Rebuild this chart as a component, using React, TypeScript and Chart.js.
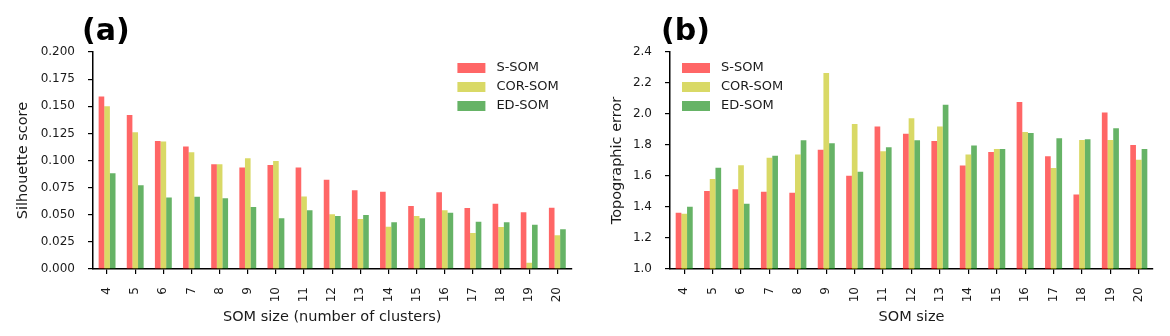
import React, { useEffect, useRef } from 'react';
import { Chart, registerables } from 'chart.js';

Chart.register(...registerables);

// ---------- data ----------
const somSizes = ['4', '5', '6', '7', '8', '9', '10', '11', '12', '13', '14', '15', '16', '17', '18', '19', '20'];
const seriesNames = ['S-SOM', 'COR-SOM', 'ED-SOM'];

const silhouetteS = [0.159, 0.142, 0.118, 0.113, 0.0965, 0.0935, 0.0958, 0.0935, 0.0823, 0.0725, 0.0713, 0.058, 0.0707, 0.0562, 0.0602, 0.0522, 0.0565];
const silhouetteCor = [0.150, 0.126, 0.1174, 0.1075, 0.0965, 0.102, 0.0995, 0.0668, 0.0505, 0.0461, 0.039, 0.0488, 0.0542, 0.0332, 0.0387, 0.0058, 0.031];
const silhouetteEd = [0.0882, 0.0771, 0.066, 0.0667, 0.0651, 0.0571, 0.0467, 0.0542, 0.0488, 0.0497, 0.043, 0.0467, 0.0519, 0.0436, 0.043, 0.0408, 0.0366];

const topoS = [1.363, 1.503, 1.514, 1.499, 1.492, 1.770, 1.602, 1.920, 1.873, 1.826, 1.667, 1.755, 2.077, 1.727, 1.480, 2.009, 1.800];
const topoCor = [1.357, 1.581, 1.669, 1.718, 1.738, 2.265, 1.935, 1.759, 1.972, 1.920, 1.738, 1.774, 1.884, 1.652, 1.832, 1.832, 1.705];
const topoEd = [1.402, 1.654, 1.421, 1.731, 1.830, 1.811, 1.628, 1.785, 1.830, 2.060, 1.796, 1.774, 1.877, 1.843, 1.837, 1.908, 1.774];

const seriesColors = ['rgba(255,0,0,0.6)', 'rgba(191,191,0,0.6)', 'rgba(0,128,0,0.6)'];

const FONT = '"DejaVu Sans", "Liberation Sans", sans-serif';
const TEXT = '#1a1a1a';

const decorPlugin = {
  id: 'panelDecor',
  afterDraw(chart: any, _args: any, opts: any) {
    const { ctx, chartArea } = chart;
    ctx.save();
    ctx.fillStyle = '#000';
    ctx.font = `bold 30px ${FONT}`;
    ctx.textAlign = 'left';
    ctx.textBaseline = 'alphabetic';
    ctx.fillText(opts.label, opts.labelX, opts.labelY);

    const x0 = opts.legendSide === 'right' ? chartArea.right - opts.legendDx : chartArea.left + opts.legendDx;
    chart.data.datasets.forEach((ds: any, i: number) => {
      const cy = chartArea.top + opts.legendDy + i * 19;
      ctx.fillStyle = ds.backgroundColor;
      ctx.fillRect(x0, cy - 5, 28, 10);
      ctx.fillStyle = TEXT;
      ctx.font = `13px ${FONT}`;
      ctx.textBaseline = 'middle';
      ctx.fillText(ds.label, x0 + 39, cy);
    });
    ctx.restore();
  },
};

type PanelProps = {
  values: number[][];
  yMin: number;
  yMax: number;
  yStep: number;
  yDecimals: number;
  yTitle: string;
  yTitlePad: number;
  xTitle: string;
  padLeft: number;
  padRight: number;
  label: string;
  labelX: number;
  legendSide: 'left' | 'right';
  legendDx: number;
};

function Panel(p: PanelProps) {
  const ref = useRef<HTMLCanvasElement | null>(null);
  useEffect(() => {
    if (!ref.current) return;
    const chart = new Chart(ref.current, {
      type: 'bar',
      data: {
        labels: somSizes,
        datasets: p.values.map((v, i) => ({
          label: seriesNames[i],
          data: v,
          backgroundColor: seriesColors[i],
          borderWidth: 0,
          categoryPercentage: 0.6,
          barPercentage: 1.0,
        })),
      },
      options: {
        animation: false,
        responsive: false,
        events: [],
        layout: { padding: { left: 0, right: p.padRight, top: 52, bottom: 0 } },
        plugins: {
          legend: { display: false },
          tooltip: { enabled: false },
          title: { display: false },
          panelDecor: {
            label: p.label,
            labelX: p.labelX,
            labelY: 40,
            legendSide: p.legendSide,
            legendDx: p.legendDx,
            legendDy: 16,
          },
        } as any,
        scales: {
          x: {
            offset: true,
            grid: { display: true, drawOnChartArea: false, drawTicks: true, tickLength: 5, offset: false, color: '#000', lineWidth: 1.2 },
            border: { display: true, color: '#000', width: 1.5 },
            ticks: { maxRotation: 90, minRotation: 90, padding: 13, color: TEXT, font: { family: FONT, size: 12 }, autoSkip: false },
            title: { display: true, text: p.xTitle, color: TEXT, font: { family: FONT, size: 14.5 }, padding: { top: 0, bottom: 10 } },
            afterFit: (s: any) => { s.height = 67; },
          },
          y: {
            min: p.yMin,
            max: p.yMax,
            grid: { display: true, drawOnChartArea: false, drawTicks: true, tickLength: 5, color: '#000', lineWidth: 1.2 },
            border: { display: true, color: '#000', width: 1.5 },
            ticks: {
              stepSize: p.yStep,
              padding: 13,
              color: TEXT,
              font: { family: FONT, size: 12 },
              callback: (v: any) => Number(v).toFixed(p.yDecimals),
            },
            title: { display: true, text: p.yTitle, color: TEXT, font: { family: FONT, size: 14.5 }, padding: { top: p.yTitlePad, bottom: 0 } },
            afterFit: (s: any) => { s.width = p.padLeft; },
          },
        },
      },
      plugins: [decorPlugin],
    } as any);
    return () => chart.destroy();
  }, []);
  return <canvas ref={ref} width={585} height={336} style={{ display: 'block', width: 585, height: 336 }} />;
}

export default function App() {
  return (
    <div style={{ position: 'absolute', left: 0, top: 0, width: 1170, height: 336, display: 'flex', background: '#fff' }}>
      <Panel
        values={[silhouetteS, silhouetteCor, silhouetteEd]}
        yMin={0}
        yMax={0.2}
        yStep={0.025}
        yDecimals={3}
        yTitle="Silhouette score"
        yTitlePad={15}
        xTitle="SOM size (number of clusters)"
        padLeft={93}
        padRight={9}
        label="(a)"
        labelX={82}
        legendSide="right"
        legendDx={114}
      />
      <Panel
        values={[topoS, topoCor, topoEd]}
        yMin={1.0}
        yMax={2.4}
        yStep={0.2}
        yDecimals={1}
        yTitle="Topographic error"
        yTitlePad={24}
        xTitle="SOM size"
        padLeft={85}
        padRight={17}
        label="(b)"
        labelX={76}
        legendSide="left"
        legendDx={12}
      />
    </div>
  );
}
